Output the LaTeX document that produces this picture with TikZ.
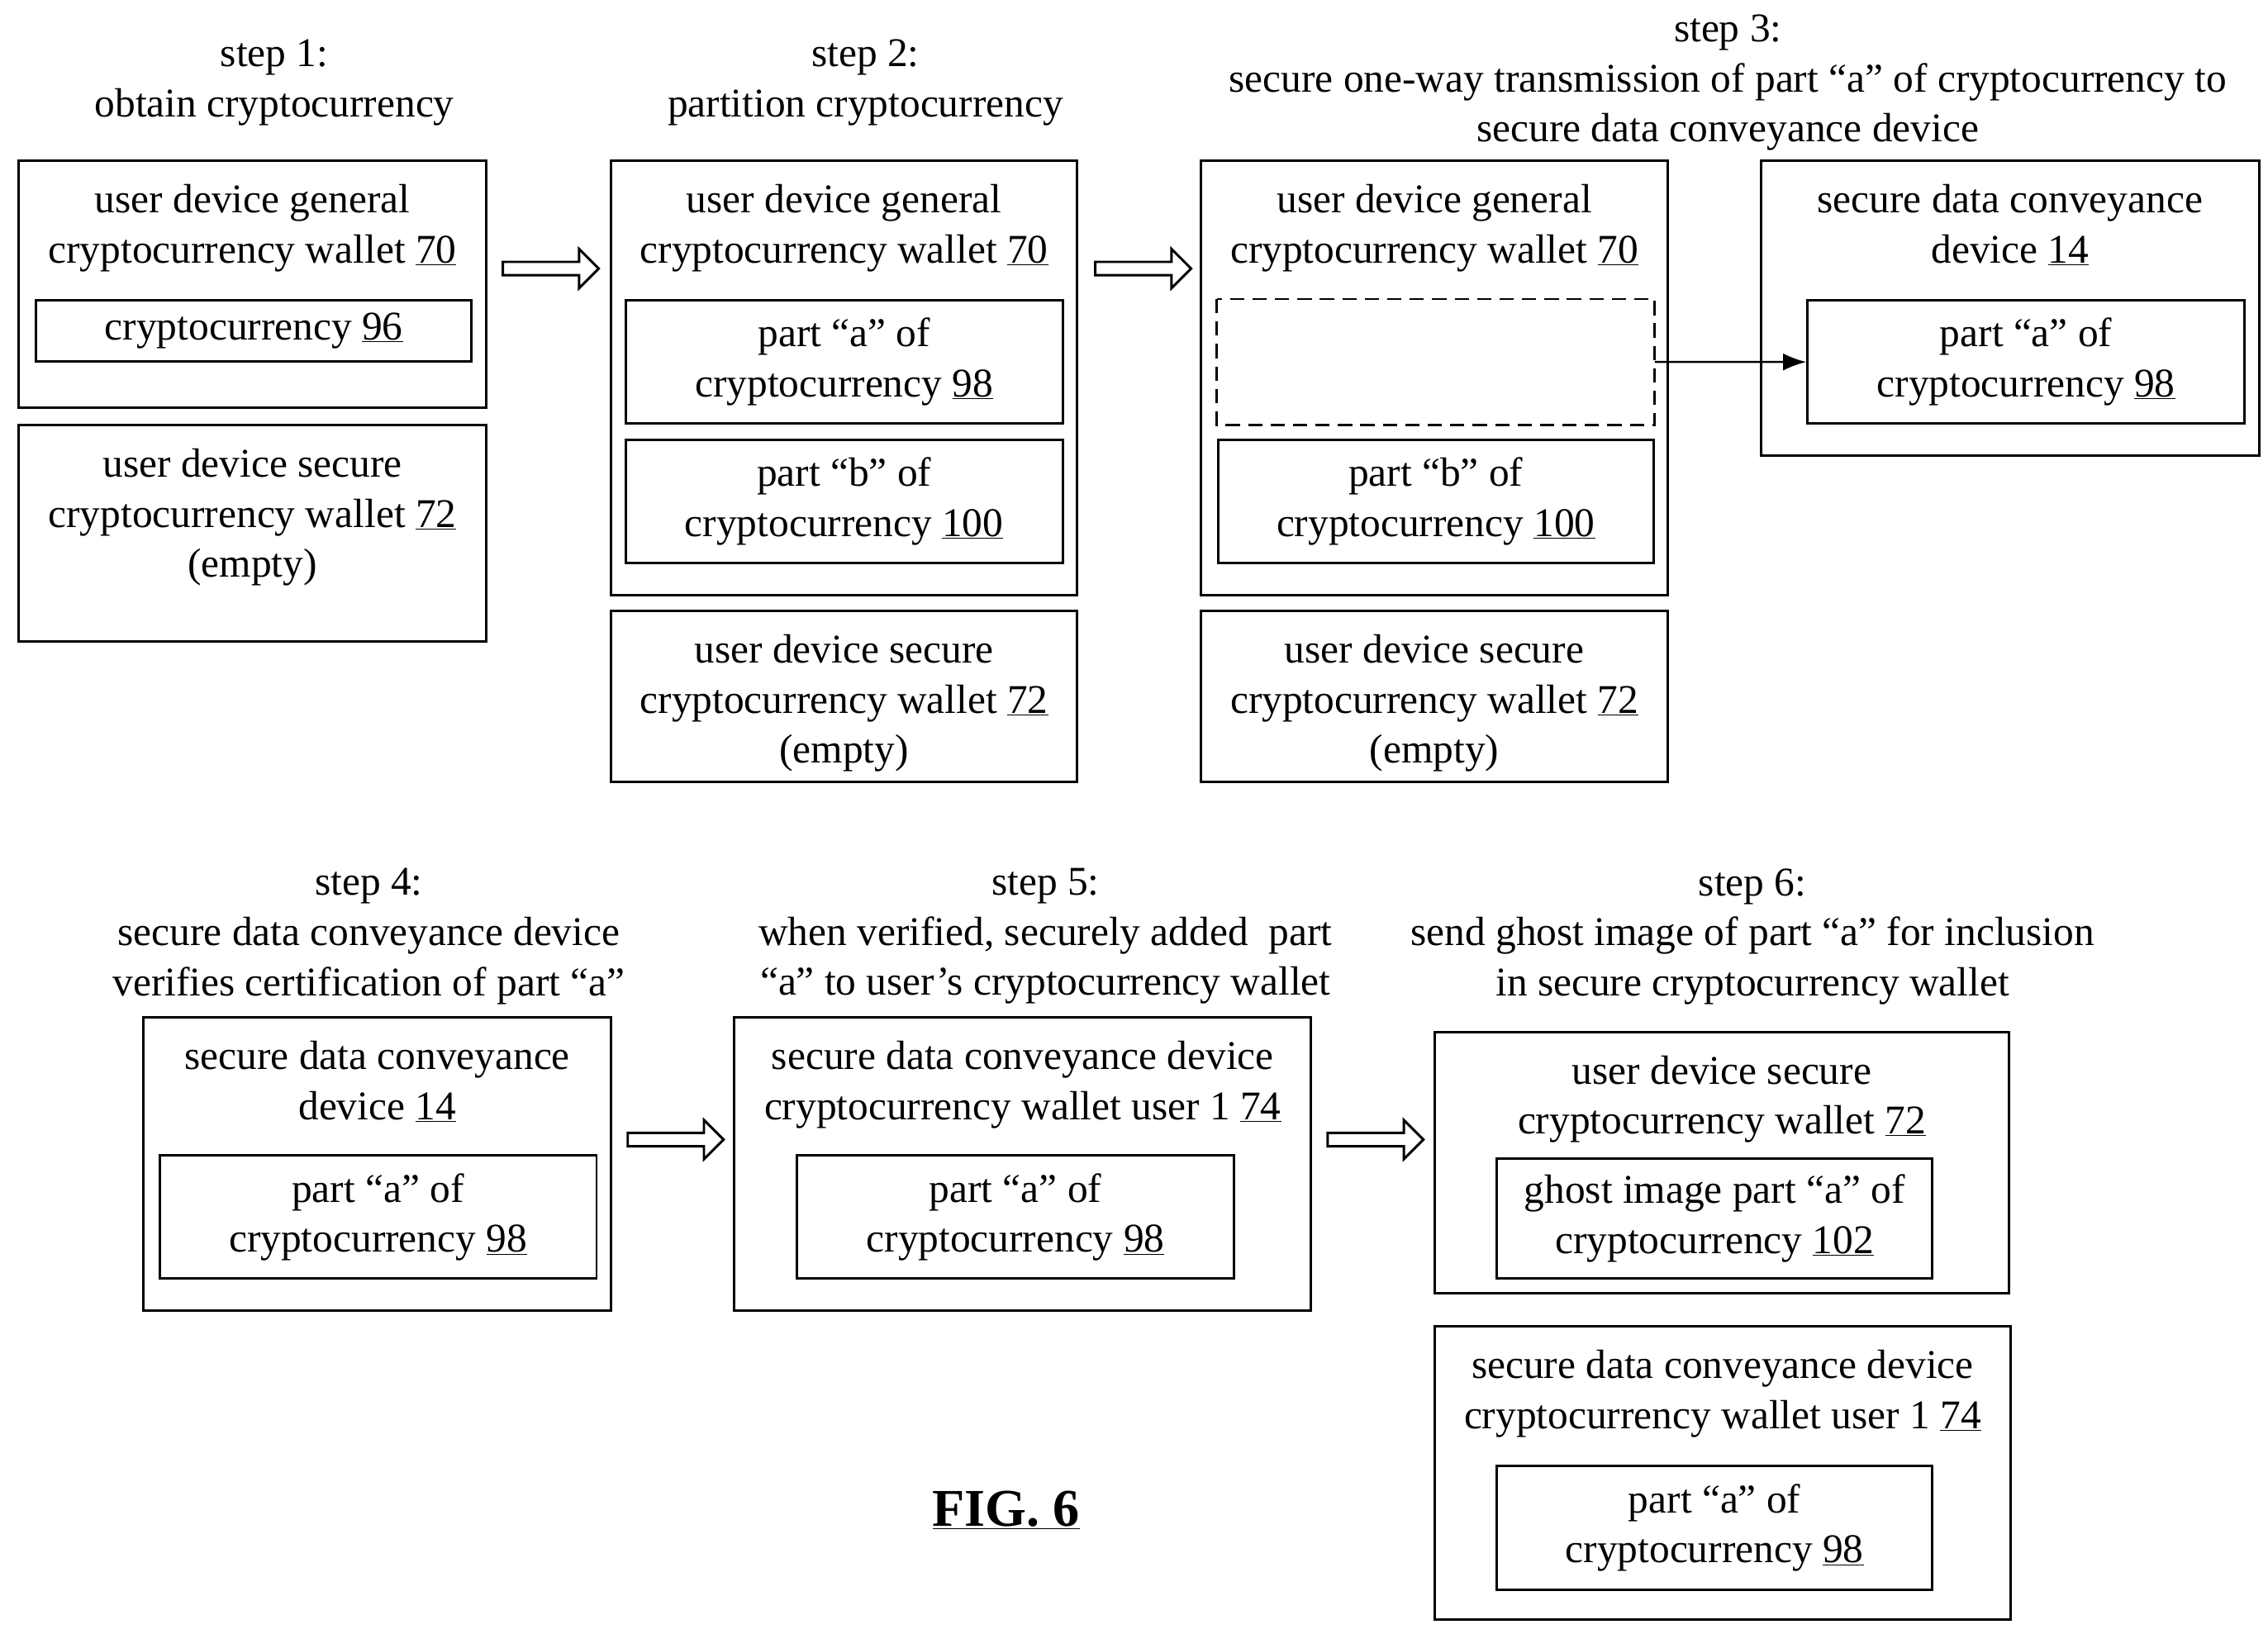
\documentclass[tikz,border=0pt]{standalone}
\usepackage{fontspec}
\setmainfont{Liberation Serif}
\usetikzlibrary{positioning,shapes.arrows,arrows.meta}

\tikzset{
  box/.style={draw,line width=2.4pt,anchor=north west,inner sep=0pt},
  txt/.style={font=\fontsize{40}{49}\selectfont,align=center,inner sep=0pt},
  hollow/.style={single arrow,draw,line width=2.4pt,minimum height=3.3cm,
    minimum width=1.35cm,single arrow head extend=0.35cm,inner sep=0.14cm},
}
\newcommand{\bx}[5]{% name, x1, y1, x2, y2
  \node[box,minimum width={(#4-#2)*0.05cm},minimum height={(#5-#3)*0.05cm}] (#1) at (#2,#3) {};}

\begin{document}
\begin{tikzpicture}[x=0.05cm,y=-0.05cm]
  \useasboundingbox (0,0) rectangle (1562,1125);

  % titles
  \node[txt] (t1) at (189,57) {step 1:\\obtain cryptocurrency};
  \node[txt] (t2) at (596,57) {step 2:\\partition cryptocurrency};
  \node[txt] (t3) at (1190,57) {step 3:\\secure one-way transmission of part “a” of cryptocurrency to\\secure data conveyance device};
  \node[txt] (t4) at (254,645) {step 4:\\secure data conveyance device\\verifies certification of part “a”};
  \node[txt] (t5) at (720,645) {step 5:\\when verified, securely added\ \ part\\“a” to user’s cryptocurrency wallet};
  \node[txt] (t6) at (1207,645) {step 6:\\send ghost image of part “a” for inclusion\\in secure cryptocurrency wallet};

  % step 1
  \bx{g1}{12}{110}{334}{280}
  \node[txt,below=0.85cm of g1.north] {user device general\\cryptocurrency wallet \underline{70}};
  \bx{c1}{24}{206}{324}{248}
  \node[txt] at (c1) {cryptocurrency \underline{96}};
  \bx{s1}{12}{292}{334}{441}
  \node[txt,below=0.85cm of s1.north] {user device secure\\cryptocurrency wallet \underline{72}\\(empty)};

  % step 2
  \bx{g2}{420}{110}{741}{409}
  \node[txt,below=0.85cm of g2.north] {user device general\\cryptocurrency wallet \underline{70}};
  \bx{a2}{430}{206}{731}{291}
  \node[txt] at (a2) {part “a” of\\cryptocurrency \underline{98}};
  \bx{b2}{430}{302}{731}{387}
  \node[txt] at (b2) {part “b” of\\cryptocurrency \underline{100}};
  \bx{s2}{420}{420}{741}{538}
  \node[txt,below=0.85cm of s2.north] {user device secure\\cryptocurrency wallet \underline{72}\\(empty)};

  % step 3
  \bx{g3}{826}{110}{1148}{409}
  \node[txt,below=0.85cm of g3.north] {user device general\\cryptocurrency wallet \underline{70}};
  \node[box,draw=none,minimum width=15cm,minimum height=4.25cm] (a3) at (838,206) {};
  \draw[line width=2.4pt,dash pattern=on 14pt off 8pt] (a3.north west) rectangle (a3.south east);
  \bx{b3}{838}{302}{1138}{387}
  \node[txt] at (b3) {part “b” of\\cryptocurrency \underline{100}};
  \bx{s3}{826}{420}{1148}{538}
  \node[txt,below=0.85cm of s3.north] {user device secure\\cryptocurrency wallet \underline{72}\\(empty)};
  \bx{d3}{1212}{110}{1555}{313}
  \node[txt,below=0.85cm of d3.north] {secure data conveyance\\device \underline{14}};
  \bx{p3}{1244}{206}{1545}{291}
  \node[txt] at (p3) {part “a” of\\cryptocurrency \underline{98}};
  \draw[line width=2pt,-{Latex[length=0.8cm,width=0.6cm]}] (a3.east) -- (p3.west);

  % step 4
  \bx{d4}{98}{700}{420}{902}
  \node[txt,below=0.85cm of d4.north] {secure data conveyance\\device \underline{14}};
  \bx{p4}{109}{795}{410}{880}
  \node[txt] at (p4) {part “a” of\\cryptocurrency \underline{98}};

  % step 5
  \bx{w5}{505}{700}{902}{902}
  \node[txt,below=0.85cm of w5.north] {secure data conveyance device\\cryptocurrency wallet user 1 \underline{74}};
  \bx{p5}{548}{795}{849}{880}
  \node[txt] at (p5) {part “a” of\\cryptocurrency \underline{98}};

  % step 6
  \bx{s6}{987}{710}{1383}{890}
  \node[txt,below=0.85cm of s6.north] {user device secure\\cryptocurrency wallet \underline{72}};
  \bx{h6}{1030}{797}{1330}{880}
  \node[txt] at (h6) {ghost image part “a” of\\cryptocurrency \underline{102}};
  \bx{w6}{987}{913}{1384}{1115}
  \node[txt,below=0.85cm of w6.north] {secure data conveyance device\\cryptocurrency wallet user 1 \underline{74}};
  \bx{p6}{1030}{1009}{1330}{1094}
  \node[txt] at (p6) {part “a” of\\cryptocurrency \underline{98}};

  % hollow arrows
  \node[hollow] (h12) at (377,185) {};
  \node[hollow] (h23) at (785,185) {};
  \node[hollow] (h45) at (463,785) {};
  \node[hollow] (h56) at (945,785) {};

  \node[txt,font=\fontsize{52}{60}\selectfont\bfseries] (fig) at (693,1040) {\underline{FIG. 6}};
\end{tikzpicture}
\end{document}
